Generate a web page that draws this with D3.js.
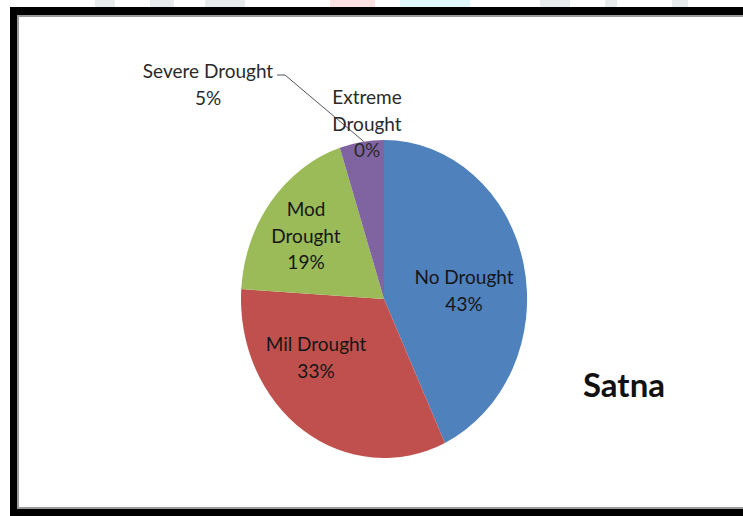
<!DOCTYPE html>
<html>
<head>
<meta charset="utf-8">
<script src="https://cdn.jsdelivr.net/npm/d3@7"></script>
<style>
  html, body { margin: 0; padding: 0; background: #fff; }
  svg { display: block; }
  text { font-family: Lato, "Open Sans", sans-serif; }
</style>
</head>
<body>
<svg id="chart" width="743" height="516"></svg>
<script>
// Drought class shares for Satna (percent)
const categories = ["No Drought", "Mil Drought", "Mod Drought", "Severe Drought", "Extreme Drought"];
const values = [43, 33, 19, 5, 0];
const colors = ["#4F81BD", "#C0504D", "#9BBB59", "#8064A2", "#4BACC6"];
const title = "Satna";

// Label lines and where each label sits (offset from pie centre, px)
const labelLines = [["No Drought"], ["Mil Drought"], ["Mod", "Drought"], ["Severe Drought"], ["Extreme", "Drought"]];
const labelPos = [[80, -8], [-68, 59], [-78, -63], [-176, -214], [-17, -175]];

const W = 743, H = 516;
const svg = d3.select("#chart");

// faint watermark strip above the frame
const wm = svg.append("g").attr("opacity", 0.55);
[[95, 20, "#d7dde0"], [150, 24, "#d7dde0"], [205, 40, "#d7dde0"], [330, 45, "#f9c9c9"],
 [400, 70, "#c9f4f6"], [540, 30, "#d7dde0"], [605, 12, "#d7dde0"], [672, 16, "#d7dde0"]]
  .forEach(([x, w, c]) => wm.append("rect").attr("x", x).attr("y", 0).attr("width", w).attr("height", 7).attr("fill", c));

// frame
svg.append("rect").attr("x", 10).attr("y", 7).attr("width", W).attr("height", H).attr("fill", "#000");
svg.append("rect").attr("x", 17).attr("y", 15).attr("width", W).attr("height", 494).attr("fill", "#9a9a9a");
svg.append("rect").attr("x", 19).attr("y", 17).attr("width", W).attr("height", 490).attr("fill", "#fff");

// pie (drawn on a unit circle and stretched into the plot ellipse)
const cx = 384, cy = 299, rx = 143, ry = 159;
const pie = d3.pie().sort(null).value(d => d)(values);
const arc = d3.arc().innerRadius(0).outerRadius(1);

const g = svg.append("g").attr("transform", `translate(${cx},${cy})`);
g.append("g").attr("transform", `scale(${rx},${ry})`)
  .selectAll("path").data(pie).join("path")
  .attr("d", arc)
  .attr("fill", (d, i) => colors[i]);

// leader line for the severe drought label
const sev = pie[3];
const edgeAng = sev.startAngle + (sev.endAngle - sev.startAngle) * 0.55;
const ex = rx * Math.sin(edgeAng), ey = -ry * Math.cos(edgeAng);
g.append("polyline")
  .attr("points", [[-107, -224], [-99, -224], [ex, ey]].map(p => p.join(",")).join(" "))
  .attr("fill", "none").attr("stroke", "#555").attr("stroke-width", 1);

// data labels
const lineH = 26.5, fs = 19;
pie.forEach((d, i) => {
  const lines = labelLines[i].concat([values[i] + "%"]);
  const [lx, ly] = labelPos[i];
  const t = g.append("text")
    .attr("text-anchor", "middle")
    .attr("font-size", fs)
    .attr("fill", i >= 3 ? "#2a2a2a" : "#161616");
  const y0 = ly - (lines.length - 1) * lineH / 2;
  lines.forEach((s, k) => {
    t.append("tspan").attr("x", lx).attr("y", y0 + k * lineH).attr("dy", "0.35em").text(s);
  });
});

// title
svg.append("text")
  .attr("x", 624).attr("y", 397)
  .attr("text-anchor", "middle")
  .attr("font-size", 33).attr("font-weight", "bold")
  .attr("fill", "#111")
  .text(title);
</script>
</body>
</html>
